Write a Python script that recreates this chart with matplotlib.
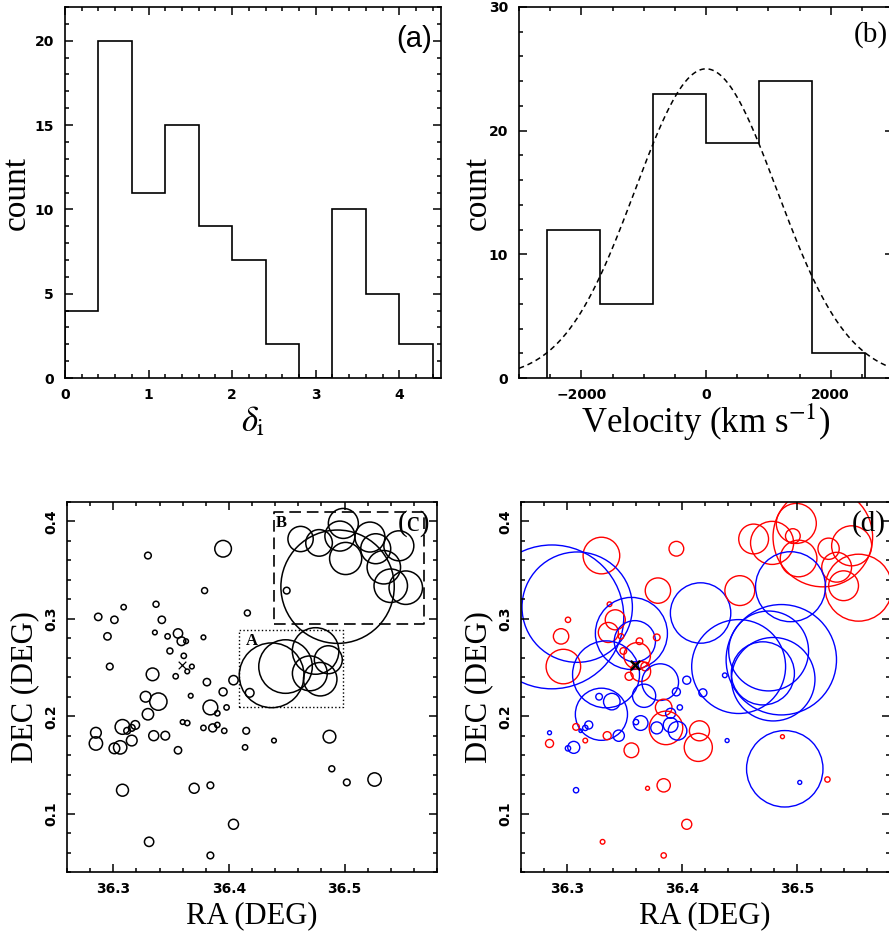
import numpy as np
import matplotlib
matplotlib.use("Agg")
import matplotlib.pyplot as plt
from matplotlib.ticker import MultipleLocator

plt.rcParams['font.family'] = 'DejaVu Sans'
plt.rcParams['mathtext.fontset'] = 'stix'
plt.rcParams['axes.linewidth'] = 1.2

SerifFont = 'Liberation Serif'

# (a) histogram of delta_i
delta_edges = [0.0, 0.4, 0.8, 1.2, 1.6, 2.0, 2.4, 2.8, 3.2, 3.6, 4.0, 4.4]
delta_counts = [4, 20, 11, 15, 9, 7, 2, 0, 10, 5, 2]

# (b) velocity histogram and gaussian fit
vel_edges = [-2550, -1700, -850, 0, 850, 1700, 2550]
vel_counts = [12, 6, 23, 19, 24, 2]
gauss_amp = 25.0
gauss_mean = 0.0
gauss_sigma = 1140.0

# galaxies (c) and (d)
ra = [36.330, 36.395, 36.309, 36.337, 36.287, 36.301, 36.342, 36.295, 36.336, 36.347,
      36.356, 36.359, 36.363, 36.349, 36.361, 36.368, 36.364, 36.297, 36.354, 36.334,
      36.379, 36.378, 36.416, 36.381, 36.404, 36.418, 36.395, 36.367, 36.328, 36.339,
      36.384, 36.398, 36.390, 36.330, 36.360, 36.364, 36.390, 36.378, 36.386, 36.396,
      36.415, 36.308, 36.319, 36.312, 36.316, 36.285, 36.285, 36.316, 36.301, 36.306,
      36.335, 36.345, 36.356, 36.414, 36.439, 36.487, 36.489, 36.502, 36.526, 36.308,
      36.370, 36.384, 36.404, 36.331, 36.384, 36.450,
      36.437, 36.449, 36.475, 36.470, 36.479, 36.486,
      36.462, 36.478, 36.499, 36.496, 36.501, 36.522, 36.527, 36.547, 36.534, 36.540,
      36.553, 36.494]
dec = [0.365, 0.372, 0.312, 0.315, 0.302, 0.299, 0.299, 0.282, 0.286, 0.282,
       0.285, 0.277, 0.277, 0.267, 0.262, 0.251, 0.246, 0.251, 0.241, 0.243,
       0.329, 0.281, 0.306, 0.235, 0.237, 0.224, 0.225, 0.221, 0.220, 0.215,
       0.209, 0.209, 0.203, 0.202, 0.194, 0.193, 0.191, 0.188, 0.188, 0.185,
       0.185, 0.189, 0.191, 0.185, 0.188, 0.183, 0.172, 0.175, 0.167, 0.168,
       0.180, 0.180, 0.165, 0.168, 0.175, 0.179, 0.146, 0.132, 0.135, 0.124,
       0.126, 0.129, 0.089, 0.071, 0.057, 0.329,
       0.242, 0.251, 0.267, 0.244, 0.238, 0.258,
       0.382, 0.378, 0.398, 0.385, 0.362, 0.384, 0.372, 0.375, 0.353, 0.334,
       0.332, 0.333]
delta_c = [0.36, 1.27, 0.13, 0.25, 0.45, 0.45, 0.45, 0.45, 0.00, 0.13,
           0.69, 0.62, 0.00, 0.25, 0.13, 0.00, 0.00, 0.36, 0.13, 1.00,
           0.25, 0.00, 0.25, 0.45, 0.69, 0.62, 0.54, 0.00, 0.83, 1.31,
           1.15, 0.13, 0.13, 0.89, 0.00, 0.13, 0.13, 0.13, 0.54, 0.13,
           0.36, 1.15, 0.62, 0.36, 0.36, 0.83, 1.05, 0.83, 0.83, 1.05,
           0.76, 0.62, 0.45, 0.13, 0.00, 1.00, 0.25, 0.36, 1.05, 0.94,
           0.76, 0.36, 0.76, 0.69, 0.36, 0.36,
           2.63, 2.44, 2.30, 2.01, 1.97, 1.79,
           1.69, 1.74, 1.86, 1.86, 1.93, 1.86, 1.86, 1.86, 1.97, 1.97,
           1.97, 3.19]
vel_d = [1630, 1010, -2380, 230, -2560, 320, 1220, 1040, 1220, 320,
         -2090, -1710, 470, 470, 1410, 650, 1220, 1590, 600, -2040,
         1380, 470, -1970, -1630, -600, -600, -600, -1320, -470, -1090,
         1090, -320, -750, -1870, -320, -1010, -1010, -870, 1570, -1170,
         1220, 470, -600, -10, -320, -120, 600, 230, -320, -870,
         600, -830, 1010, 1450, -120, 120, -2130, -120, 320, -320,
         120, 940, 750, 230, 320, 1490,
         -230, -2270, -2160, -2000, -2190, -2380,
         1490, 1740, 1690, 1010, 1630, 2310, 1260, 1690, 1490, 1490,
         2040, -2070]

center_ra, center_dec = 36.3594, 0.2522
boxA = (36.409, 36.499, 0.209, 0.289)
boxB = (36.4386, 36.5686, 0.2944, 0.4096)


def px2size(r_px):
    # circle radius in pixels -> scatter size (points^2) at dpi 100
    return (2.0 * np.asarray(r_px) * 0.72) ** 2


def prepareAxis(ax, xlim, ylim, xmaj, xmin, ymaj, ymin, rotY=False):
    ax.set_xlim(xlim)
    ax.set_ylim(ylim)
    ax.xaxis.set_major_locator(MultipleLocator(xmaj))
    ax.xaxis.set_minor_locator(MultipleLocator(xmin))
    ax.yaxis.set_major_locator(MultipleLocator(ymaj))
    ax.yaxis.set_minor_locator(MultipleLocator(ymin))
    ax.tick_params(which='both', direction='in', top=True, right=True,
                   width=1.1, labelsize=10)
    ax.tick_params(which='major', length=5.5)
    ax.tick_params(which='minor', length=3)
    ax.tick_params(axis='x', which='major', pad=7)
    if rotY:
        ax.tick_params(axis='y', which='major', pad=6, labelrotation=90)
        for lb in ax.get_yticklabels():
            lb.set_va('center')
    else:
        ax.tick_params(axis='y', which='major', pad=8)


def boldTicks(ax):
    for lb in ax.get_xticklabels() + ax.get_yticklabels():
        lb.set_fontweight('bold')


fig = plt.figure(figsize=(8.89, 9.34), dpi=100)
W, H = 889.0, 934.0
axA = fig.add_axes([65 / W, 1 - 378 / H, 376 / W, 371 / H])
axB = fig.add_axes([519 / W, 1 - 378 / H, 374 / W, 371 / H])
axC = fig.add_axes([67 / W, 1 - 872 / H, 370 / W, 370 / H])
axD = fig.add_axes([520.7 / W, 1 - 872 / H, 369 / W, 370 / H])

# ---- (a)
prepareAxis(axA, (0, 4.5), (0, 22), 1, 0.2, 5, 1)
axA.stairs(delta_counts, delta_edges, color='k', linewidth=1.2)
axA.set_ylabel('count', family=SerifFont, fontsize=24)
axA.yaxis.set_label_coords(-0.088, 0.5)
axA.set_xlabel(r'$\delta_{\rm i}$', fontsize=25, labelpad=2)
axA.text(0.975, 0.915, '(a)', transform=axA.transAxes, ha='right', va='center',
         family='Liberation Sans', fontsize=21)

# ---- (b)
prepareAxis(axB, (-3000, 3000), (0, 30), 2000, 500, 10, 2)
axB.stairs(vel_counts, vel_edges, color='k', linewidth=1.2)
gx = np.linspace(-3000, 3000, 400)
gy = gauss_amp * np.exp(-0.5 * ((gx - gauss_mean) / gauss_sigma) ** 2)
axB.plot(gx, gy, color='k', linewidth=1.1, linestyle=(0, (3.5, 2.5)))
axB.set_ylabel('count', family=SerifFont, fontsize=24)
axB.yaxis.set_label_coords(-0.07, 0.5)
axB.set_xlabel(r'Velocity (km s$^{-1}$)', family=SerifFont, fontsize=25, labelpad=0)
axB.text(0.985, 0.925, '(b)', transform=axB.transAxes, ha='right', va='center',
         family=SerifFont, fontsize=21)

# ---- (c)
prepareAxis(axC, (36.26, 36.58), (0.04, 0.42), 0.1, 0.02, 0.1, 0.02, rotY=True)
rc = (7.0 / 3.0) * np.exp(np.array(delta_c))
axC.scatter(ra, dec, s=px2size(rc), facecolors='none', edgecolors='k', linewidths=1.1)
axC.scatter([center_ra], [center_dec], marker='x', s=30, color='k', linewidths=0.9)
axC.plot([boxA[0], boxA[1], boxA[1], boxA[0], boxA[0]],
         [boxA[2], boxA[2], boxA[3], boxA[3], boxA[2]], color='k', lw=1.0, ls=':')
axC.plot([boxB[0], boxB[1], boxB[1], boxB[0], boxB[0]],
         [boxB[2], boxB[2], boxB[3], boxB[3], boxB[2]], color='k', lw=1.2,
         ls=(0, (7, 3.5)))
axC.text(boxA[0] + 0.006, boxA[3] - 0.012, 'A', family=SerifFont, fontsize=12,
         weight='bold', va='center', ha='left')
axC.text(boxB[0] + 0.002, boxB[3] - 0.011, 'B', family=SerifFont, fontsize=12,
         weight='bold', va='center', ha='left')
axC.text(0.982, 0.943, '(c)', transform=axC.transAxes, ha='right', va='center',
         family=SerifFont, fontsize=21)
axC.set_ylabel('DEC (DEG)', family=SerifFont, fontsize=22)
axC.yaxis.set_label_coords(-0.074, 0.5)
axC.set_xlabel('RA (DEG)', family=SerifFont, fontsize=22, labelpad=4)

# ---- (d)
prepareAxis(axD, (36.26, 36.58), (0.04, 0.42), 0.1, 0.02, 0.1, 0.02, rotY=True)
vd = np.array(vel_d)
rd = (5.0 / 3.0) * np.exp(np.abs(vd) / 680.0)
cols = np.where(vd > 0, '#ff0000', '#0000ff')
axD.scatter(ra, dec, s=px2size(rd), facecolors='none', edgecolors=cols, linewidths=1.0)
axD.scatter([center_ra], [center_dec], marker='x', s=45, color='k', linewidths=1.8)
axD.text(0.99, 0.943, '(d)', transform=axD.transAxes, ha='right', va='center',
         family=SerifFont, fontsize=21)
axD.set_ylabel('DEC (DEG)', family=SerifFont, fontsize=22)
axD.yaxis.set_label_coords(-0.075, 0.5)
axD.set_xlabel('RA (DEG)', family=SerifFont, fontsize=22, labelpad=4)

for ax in [axA, axB, axC, axD]:
    boldTicks(ax)

fig.savefig('out.png', dpi=100)
